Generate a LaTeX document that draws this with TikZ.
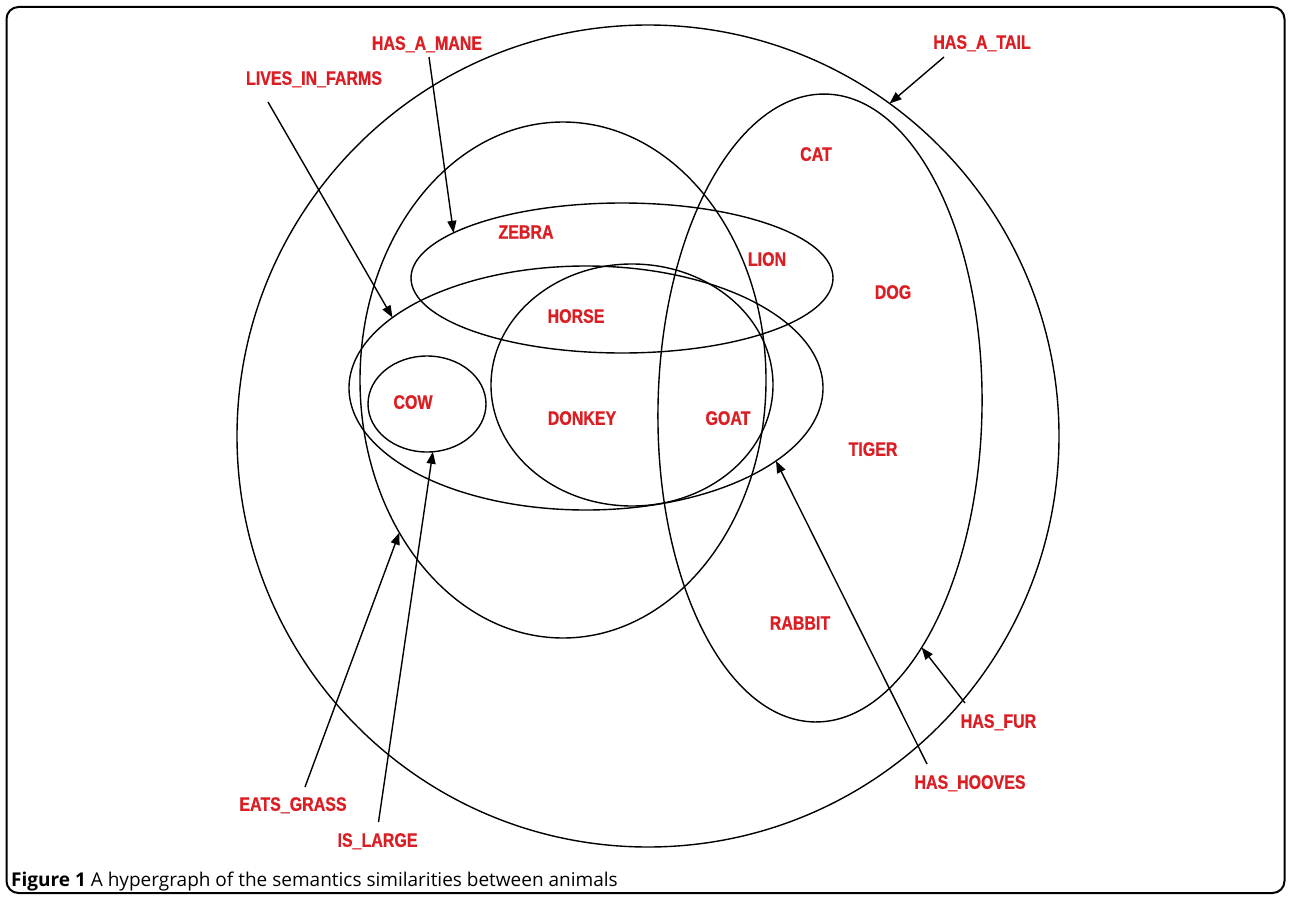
\documentclass[tikz,border=0pt]{standalone}
\usepackage{fontspec}
\setmainfont{Liberation Sans}
\newfontfamily\labfont[FakeStretch=0.82, BoldFeatures={FakeBold=0.8}]{Liberation Sans}
\newfontfamily\capfont{Open Sans}
\usetikzlibrary{arrows.meta,calc,shapes.geometric}
\definecolor{labred}{RGB}{218,30,36}
\begin{document}
\begin{tikzpicture}[x=1pt,y=-1pt,
  hedge/.style={draw=black, line width=1.4pt, inner sep=0pt, outer sep=0pt, ellipse},
  lab/.style={text=labred, font=\labfont\bfseries\fontsize{19.5}{20}\selectfont, inner sep=0pt, text depth=0pt},
  arr/.style={draw=black, line width=1.4pt, -{Triangle[length=12pt,width=9pt]}},
]
\useasboundingbox (0,0) rectangle (1290,899);
\draw[line width=2pt, rounded corners=12pt] (6.5,7) rectangle (1284.5,893);

% hyperedges
\node[hedge, minimum width=822pt, minimum height=822pt] (O) at (648,436) {};
\node[hedge, minimum width=406pt, minimum height=516pt] (A) at (563,380) {};
\node[hedge, minimum width=324pt, minimum height=628pt, rotate=-1] (B) at (820,408) {};
\node[hedge, minimum width=422pt, minimum height=150pt] (C) at (622,278) {};
\node[hedge, minimum width=474pt, minimum height=244pt] (D) at (586,388) {};
\node[hedge, minimum width=282pt, minimum height=242pt] (E) at (632,385) {};
\node[hedge, minimum width=118pt, minimum height=96pt] (F) at (427,404) {};

% animals
\node[lab] (cat) at (816,154) {CAT};
\node[lab] (zebra) at (526,232) {ZEBRA};
\node[lab] (lion) at (767,259) {LION};
\node[lab] (dog) at (893,292) {DOG};
\node[lab] (horse) at (576,316) {HORSE};
\node[lab] (cow) at (413,402) {COW};
\node[lab] (donkey) at (582,418) {DONKEY};
\node[lab] (goat) at (728,418) {GOAT};
\node[lab] (tiger) at (873,449) {TIGER};
\node[lab] (rabbit) at (800,623) {RABBIT};

% properties
\node[lab] (lMane) at (427,43) {HAS\_A\_MANE};
\node[lab] (lFarms) at (314,78) {LIVES\_IN\_FARMS};
\node[lab] (lTail) at (982,42) {HAS\_A\_TAIL};
\node[lab] (lFur) at (998.5,721) {HAS\_FUR};
\node[lab] (lHooves) at (970,782) {HAS\_HOOVES};
\node[lab] (lGrass) at (293,804) {EATS\_GRASS};
\node[lab] (lLarge) at (377.5,840) {IS\_LARGE};

% connectors
\coordinate (sTail) at ($(lTail.center)+(-38,15)$);
\coordinate (sMane) at ($(lMane.center)+(2,14)$);
\coordinate (sFarms) at ($(lFarms.center)+(-46,24)$);
\coordinate (sGrass) at ($(lGrass.center)+(12,-17)$);
\coordinate (sLarge) at ($(lLarge.center)+(1,-18)$);
\coordinate (sHooves) at ($(lHooves.center)+(-43,-18)$);
\coordinate (sFur) at ($(lFur.center)+(-33.5,-18)$);

\draw[arr] (sTail) -- (O.54);
\draw[arr] (sMane) -- (C.165);
\draw[arr] (sFarms) -- (D.160.5);
\draw[arr] (sGrass) -- (A.223.6);
\draw[arr] (sLarge) -- (F.-83);
\draw[arr] (sHooves) -- (D.-21.4);
\draw[arr] (sFur) -- (B.-66.5);

% caption
\node[anchor=base west, inner sep=0pt, font=\capfont\fontsize{19}{22}\selectfont] (cap) at (11,886.5)
  {\textbf{Figure 1} A hypergraph of the semantics similarities between animals};
\end{tikzpicture}
\end{document}
